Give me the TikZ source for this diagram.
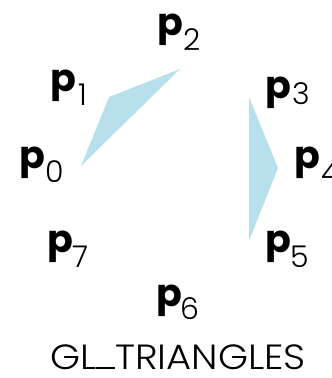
\documentclass[tikz,border=0pt]{standalone}
\usepackage{fontspec}
\setmainfont{Poppins}
\newfontfamily\plight{Poppins Light}
\definecolor{tri}{RGB}{184,224,236}
\begin{document}
\begin{tikzpicture}[x=1pt,y=-1pt,
  lab/.style={inner sep=0pt,anchor=base west,font=\fontsize{38}{38}\selectfont\bfseries},
  subs/.style={inner sep=0pt,anchor=base west,font=\fontsize{30}{30}\selectfont\plight},
  title/.style={inner sep=0pt,anchor=base,xscale=1.1,font=\fontsize{35}{35}\selectfont\plight}]
\useasboundingbox (0,0) rectangle (332,378);
\fill[tri] (81,166) -- (109,97) -- (180,69) -- cycle;
\fill[tri] (249,97) -- (278,168) -- (249,241) -- cycle;
\node[lab] (p0) at (19,168) {p};
\node[subs] (s0) at (45,182) {0};
\node[lab] (p1) at (50,91) {p};
\node[subs] (s1) at (78,105) {1};
\node[lab] (p2) at (157,35) {p};
\node[subs] (s2) at (183,50) {2};
\node[lab] (p3) at (265,98) {p};
\node[subs] (s3) at (292,104) {3};
\node[lab] (p4) at (294,168) {p};
\node[subs] (s4) at (321,183) {4};
\node[lab] (p5) at (265,252) {p};
\node[subs] (s5) at (290,267) {5};
\node[lab] (p7) at (47,252) {p};
\node[subs] (s7) at (72,267) {7};
\node[lab] (p6) at (156,306) {p};
\node[subs] (s6) at (180,319) {6};
\node[title] (t) at (178,369) {GL\rule{17pt}{1.7pt}TRIANGLES};
\end{tikzpicture}
\end{document}
